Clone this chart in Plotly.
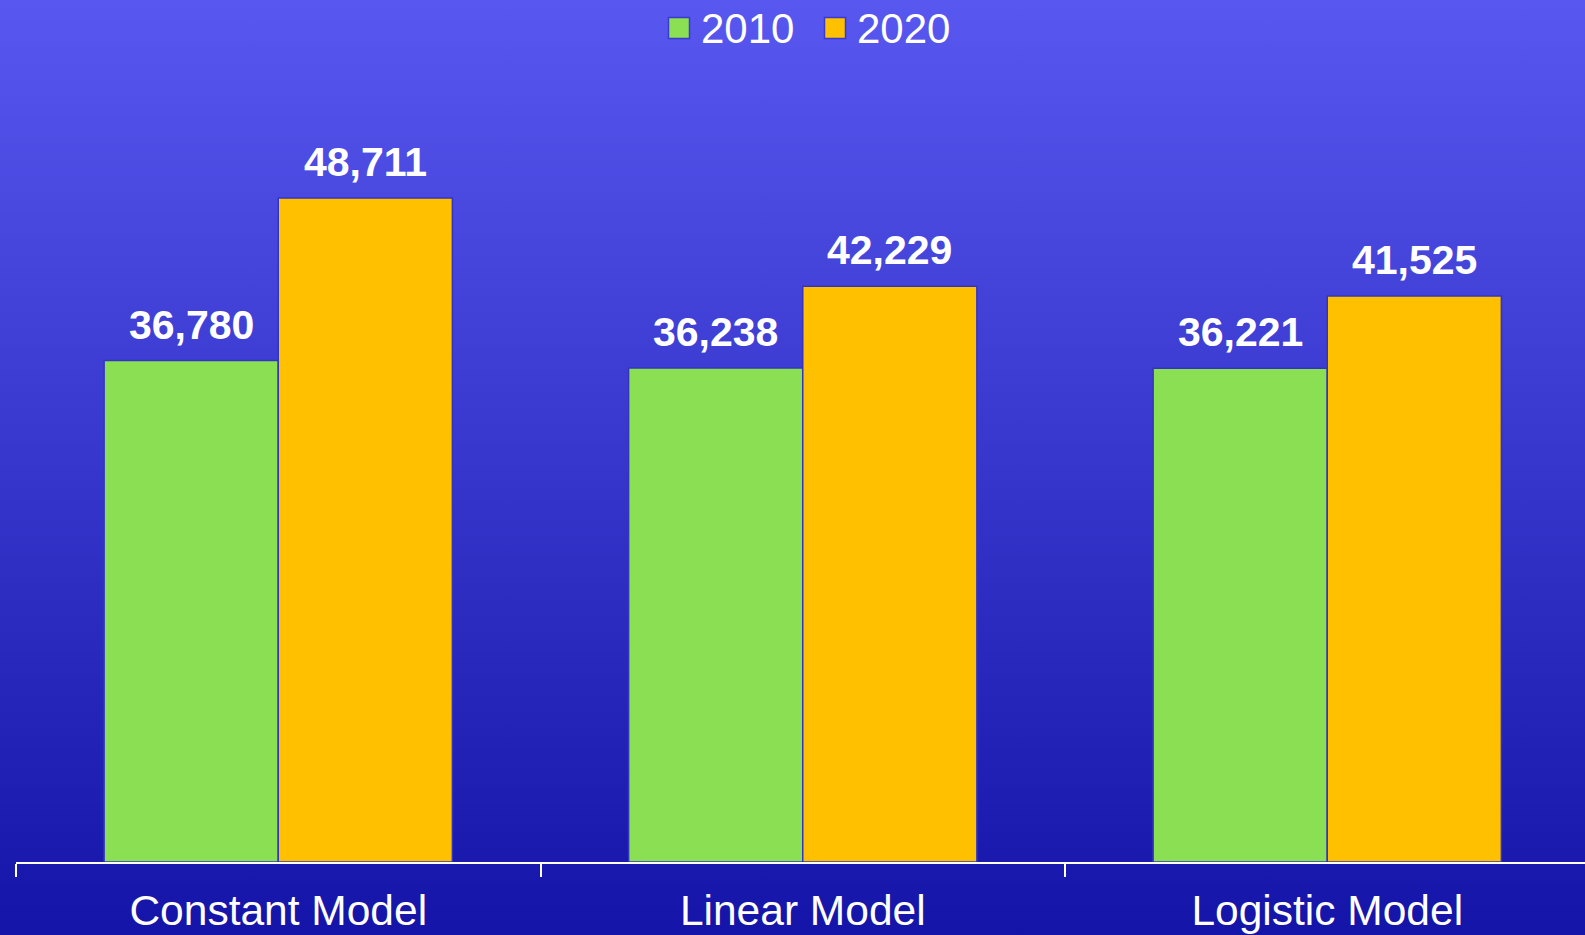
import plotly.graph_objects as go

# Projected values for each model
models = ["Constant Model", "Linear Model", "Logistic Model"]
years = ["2010", "2020"]
values_2010 = [36780, 36238, 36221]
values_2020 = [48711, 42229, 41525]

series = [values_2010, values_2020]
colors = ["#8AE052", "#FFC000"]

W, H = 1585, 935
M_L, M_R, M_T, M_B = 16, 0, 44, 73
BARGAP = 0.336
FONT = "Liberation Sans, Arial, sans-serif"

fig = go.Figure()
for name, vals, col in zip(years, series, colors):
    fig.add_trace(go.Bar(
        x=models, y=vals, name=name,
        marker=dict(color=col, line=dict(color="#3434C4", width=1.5)),
        showlegend=False,
    ))

# Value labels above each bar
bar_w = (1 - BARGAP) / len(series)
for j, vals in enumerate(series):
    for i, v in enumerate(vals):
        fig.add_annotation(
            x=i + (j - (len(series) - 1) / 2) * bar_w, y=v,
            xref="x", yref="y",
            text=f"<b>{v:,}</b>", showarrow=False,
            yanchor="bottom", yshift=11,
            font=dict(family=FONT, size=41, color="white"),
        )

# Legend drawn as swatches + text at the top centre
plot_w = W - M_L - M_R
legend_items = [(679, 699), (835, 855)]  # (swatch centre px, text left px)
for (sw_cx, tx), name, col in zip(legend_items, years, colors):
    fig.add_shape(
        type="rect", xref="paper", yref="paper",
        xsizemode="pixel", ysizemode="pixel",
        xanchor=(sw_cx - M_L) / plot_w, yanchor=1.0,
        x0=-10.5, x1=10.5, y0=M_T - 38.5, y1=M_T - 17.5,
        fillcolor=col, line=dict(color="#3A3AD0", width=1.5),
    )
    fig.add_annotation(
        xref="paper", yref="paper",
        x=(tx - M_L) / plot_w, y=1.0, yshift=M_T - 28,
        xanchor="left", yanchor="middle", showarrow=False,
        text=name, font=dict(family=FONT, size=42, color="white"),
    )

# Vertical blue gradient backdrop
gradient_svg = (
    "data:image/svg+xml;utf8,"
    "<svg xmlns='http://www.w3.org/2000/svg' width='100' height='100' preserveAspectRatio='none'>"
    "<defs><linearGradient id='g' x1='0' y1='0' x2='0' y2='1'>"
    "<stop offset='0' stop-color='%235858F0'/>"
    "<stop offset='1' stop-color='%231414A8'/>"
    "</linearGradient></defs>"
    "<rect width='100' height='100' fill='url(%23g)'/></svg>"
)
plot_h = H - M_T - M_B
fig.add_layout_image(
    source=gradient_svg, xref="paper", yref="paper",
    x=-M_L / plot_w, y=1 + M_T / plot_h,
    sizex=W / plot_w, sizey=H / plot_h,
    xanchor="left", yanchor="top",
    sizing="stretch", layer="below",
)

fig.update_layout(
    width=W, height=H,
    margin=dict(l=M_L, r=M_R, t=M_T, b=M_B, pad=0),
    paper_bgcolor="#3333CC",
    plot_bgcolor="rgba(0,0,0,0)",
    barmode="group", bargap=BARGAP, bargroupgap=0,
    showlegend=False,
    xaxis=dict(
        range=[-0.5, -0.5 + plot_w / 524.5],
        showgrid=False, zeroline=False,
        showline=True, linecolor="white", linewidth=2,
        ticks="outside", tickson="boundaries", ticklen=13,
        tickcolor="white", tickwidth=2, ticklabelstandoff=10,
        tickfont=dict(family=FONT, size=42.5, color="white"),
    ),
    yaxis=dict(
        range=[0, 60000], visible=False,
        showgrid=False, zeroline=False,
    ),
)

fig.write_html("out.html")
